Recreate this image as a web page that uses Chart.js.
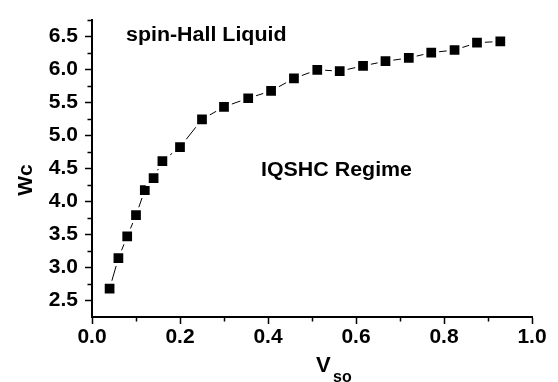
<!DOCTYPE html>
<html lang="en">
<head>
<meta charset="UTF-8">
<title>Wc x Vso</title>
<script src="https://cdn.jsdelivr.net/npm/chart.js"></script>
<style>
  body { margin: 0; background: #fff; }
</style>
</head>
<body>
<canvas id="grafico" width="558" height="382"></canvas>
<script>
// valores
const vso = [0.04, 0.06, 0.08, 0.10, 0.12, 0.14, 0.16, 0.20, 0.25, 0.30, 0.355, 0.407,
             0.459, 0.512, 0.563, 0.616, 0.667, 0.72, 0.771, 0.824, 0.875, 0.928];
const wc = [2.68, 3.14, 3.47, 3.79, 4.17, 4.35, 4.61, 4.82, 5.24, 5.43, 5.56, 5.67,
            5.86, 5.99, 5.97, 6.05, 6.12, 6.17, 6.25, 6.29, 6.40, 6.42];

// marcas dos eixos
const xTicks = [0, 0.2, 0.4, 0.6, 0.8, 1.0];
const xMinor = [0.1, 0.3, 0.5, 0.7, 0.9];
const yTicks = [2.5, 3.0, 3.5, 4.0, 4.5, 5.0, 5.5, 6.0, 6.5];
const yMinor = [2.75, 3.25, 3.75, 4.25, 4.75, 5.25, 5.75, 6.25, 6.75];

const fonte = '"Liberation Sans", Arial, sans-serif';

// ticks menores + titulos + textos dentro do grafico
const extras = {
    id: 'extras',
    afterDraw(chart) {
        const ctx = chart.ctx;
        const x = chart.scales.x;
        const y = chart.scales.y;
        const area = chart.chartArea;
        ctx.save();
        ctx.strokeStyle = '#000';
        ctx.lineWidth = 1.5;
        ctx.beginPath();
        xMinor.forEach(function (v) {
            const px = Math.round(x.getPixelForValue(v)) + 0.5;
            ctx.moveTo(px, area.bottom);
            ctx.lineTo(px, area.bottom + 4.5);
        });
        yMinor.forEach(function (v) {
            const py = Math.round(y.getPixelForValue(v)) + 0.5;
            ctx.moveTo(area.left, py);
            ctx.lineTo(area.left - 4.5, py);
        });
        ctx.stroke();

        ctx.fillStyle = '#000';
        ctx.textBaseline = 'alphabetic';
        ctx.textAlign = 'left';

        ctx.font = 'bold 20px ' + fonte;
        ctx.save();
        ctx.translate(126, 41);
        ctx.scale(1.07, 1);
        ctx.fillText('spin-Hall Liquid', 0, 0);
        ctx.restore();

        ctx.save();
        ctx.translate(261, 176);
        ctx.scale(1.07, 1);
        ctx.fillText('IQSHC Regime', 0, 0);
        ctx.restore();

        // titulo eixo x: V com subscrito so
        ctx.font = 'bold 22px ' + fonte;
        ctx.fillText('V', 316, 372);
        ctx.font = 'bold 16px ' + fonte;
        ctx.fillText('so', 333, 382);

        // titulo eixo y
        ctx.save();
        ctx.translate(32, 180);
        ctx.rotate(-Math.PI / 2);
        ctx.textAlign = 'center';
        ctx.font = 'bold 21px ' + fonte;
        ctx.fillText('Wc', 0, 0);
        ctx.restore();

        ctx.restore();
    }
};

const dados = {
    datasets: [{
        label: 'Wc',
        data: vso.map(function (v, i) { return { x: v, y: wc[i] }; }),
        borderColor: '#000',
        borderWidth: 1,
        backgroundColor: '#000',
        pointStyle: 'rect',
        pointRadius: 9,
        pointBorderWidth: 3,
        pointBorderColor: '#fff',
        pointBackgroundColor: '#000',
        tension: 0
    }]
};

const config = {
    type: 'line',
    data: dados,
    options: {
        responsive: false,
        animation: false,
        clip: false,
        layout: { padding: { left: 0, right: 26, top: 7, bottom: 0 } },
        plugins: {
            legend: { display: false },
            tooltip: { enabled: false }
        },
        scales: {
            x: {
                type: 'linear',
                min: 0,
                max: 1,
                afterBuildTicks: function (scale) {
                    scale.ticks = xTicks.map(function (v) { return { value: v }; });
                },
                afterFit: function (scale) { scale.height = 65; },
                ticks: {
                    color: '#000',
                    font: { family: fonte, size: 21, weight: 'bold' },
                    padding: 1,
                    maxRotation: 0,
                    callback: function (v) { return v.toFixed(1); }
                },
                grid: {
                    drawOnChartArea: false,
                    drawTicks: true,
                    tickLength: 7,
                    tickColor: '#000',
                    tickWidth: 1.5
                },
                border: { display: true, color: '#000', width: 2 }
            },
            y: {
                type: 'linear',
                min: 2.25,
                max: 6.75,
                afterBuildTicks: function (scale) {
                    scale.ticks = yTicks.map(function (v) { return { value: v }; });
                },
                afterFit: function (scale) { scale.width = 92; },
                ticks: {
                    color: '#000',
                    font: { family: fonte, size: 21, weight: 'bold' },
                    padding: 7,
                    callback: function (v) { return v.toFixed(1); }
                },
                grid: {
                    drawOnChartArea: false,
                    drawTicks: true,
                    tickLength: 7,
                    tickColor: '#000',
                    tickWidth: 1.5
                },
                border: { display: true, color: '#000', width: 2 }
            }
        }
    },
    plugins: [extras]
};

let grafico = new Chart(document.getElementById('grafico'), config);
</script>
</body>
</html>
